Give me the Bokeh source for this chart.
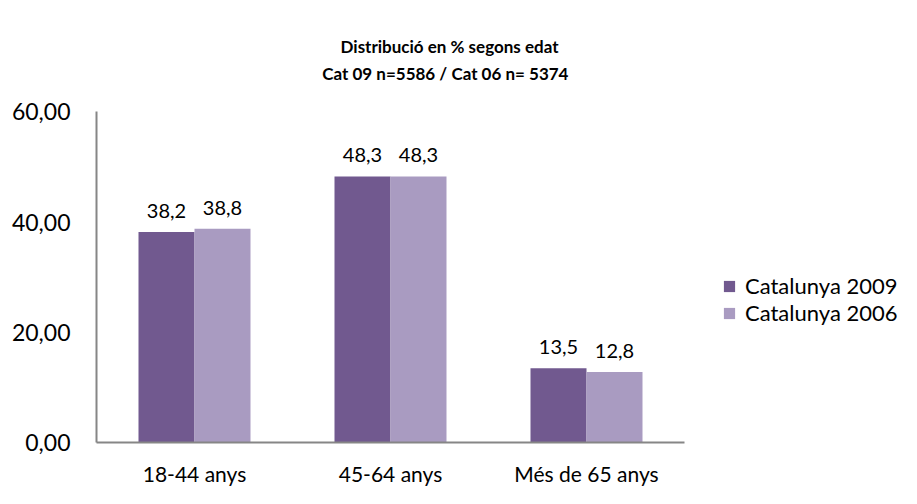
from bokeh.plotting import figure
from bokeh.models import (ColumnDataSource, Range1d, Legend, LegendItem, Label,
                          CustomJSTickFormatter, FixedTicker)
from bokeh.transform import dodge
from bokeh.core.properties import value
from bokeh.embed import file_html
from bokeh.resources import INLINE

categories = ["18-44 anys", "45-64 anys", "Més de 65 anys"]
cat2009 = [38.2, 48.3, 13.5]
cat2006 = [38.8, 48.3, 12.8]
series_names = ["Catalunya 2009", "Catalunya 2006"]
y_ticks = [0, 20, 40, 60]
y_max = 60
title_lines = ["Distribució en % segons edat", "Cat 09  n=5586 / Cat 06  n= 5374"]

C09 = "#71598F"
C06 = "#A99BC1"
AXIS = "#868686"
FONT = "Lato"

# layout (pixels)
W, H = 901, 488
LEFT, BOTTOM = 96, 40
PX_CAT = 196.0            # width of one category slot
PX_UNIT = 335.0 / y_max   # pixels per y unit
frame_w = W - LEFT
frame_h = H - BOTTOM
n = len(categories)
xc = [i + 0.5 for i in range(n)]

src = ColumnDataSource(dict(
    x=xc,
    v09=cat2009,
    v06=cat2006,
    l09=[f"{v:.1f}".replace(".", ",") for v in cat2009],
    l06=[f"{v:.1f}".replace(".", ",") for v in cat2006],
))

p = figure(x_range=Range1d(0, frame_w / PX_CAT), y_range=Range1d(0, frame_h / PX_UNIT),
           width=W, height=H, output_backend="svg", toolbar_location=None,
           min_border_left=LEFT, min_border_right=0, min_border_top=0,
           min_border_bottom=BOTTOM)
p.outline_line_color = None
p.xgrid.grid_line_color = None
p.ygrid.grid_line_color = None
p.background_fill_color = "white"
p.border_fill_color = "white"

bw = 56.0 / PX_CAT
r09 = p.vbar(x=dodge("x", -bw / 2), top="v09", width=bw,
             source=src, fill_color=C09, line_color=None)
r06 = p.vbar(x=dodge("x", bw / 2), top="v06", width=bw,
             source=src, fill_color=C06, line_color=None)

for key, off in (("09", -bw / 2), ("06", bw / 2)):
    p.text(x=dodge("x", off), y="v" + key, text="l" + key, source=src,
           text_align="center", text_baseline="bottom", y_offset=-14,
           text_font=value(FONT), text_font_size="20px", text_color="#000000")

# axes
p.yaxis.ticker = FixedTicker(ticks=y_ticks)
p.yaxis.bounds = (0, y_max)
p.yaxis.formatter = CustomJSTickFormatter(code="return tick.toFixed(2).replace('.', ',');")
p.xaxis.ticker = FixedTicker(ticks=xc)
p.xaxis.bounds = (0, n)
p.xaxis.major_label_overrides = {x: c for x, c in zip(xc, categories)}
for ax in (p.xaxis, p.yaxis):
    ax.axis_line_color = AXIS
    ax.axis_line_width = 2
    ax.major_tick_line_color = None
    ax.minor_tick_line_color = None
    ax.major_label_text_font = FONT
    ax.major_label_text_color = "#000000"
p.yaxis.major_label_text_font_size = "23px"
p.xaxis.major_label_text_font_size = "21px"
p.yaxis.major_label_standoff = 20
p.xaxis.major_label_standoff = 12

# title (two lines, centred over the whole chart)
title_cx = (449 - LEFT) / PX_CAT
for line, cy in zip(title_lines, (47, 74)):
    p.add_layout(Label(x=title_cx, y=(frame_h - cy) / PX_UNIT, text=line,
                       text_align="center", text_baseline="middle",
                       text_font=FONT, text_font_size="17px", text_font_style="bold",
                       text_color="#000000"))

legend = Legend(items=[LegendItem(label=series_names[0], renderers=[r09]),
                       LegendItem(label=series_names[1], renderers=[r06])],
                location=(626, 116), orientation="vertical",
                border_line_color=None, background_fill_alpha=0,
                padding=0, margin=0, spacing=0, label_height=20,
                glyph_width=14, glyph_height=14, label_standoff=9,
                label_text_font=FONT, label_text_font_size="22px",
                label_text_color="#000000")
p.add_layout(legend, "center")

open("out.html", "w").write(file_html(p, INLINE))
